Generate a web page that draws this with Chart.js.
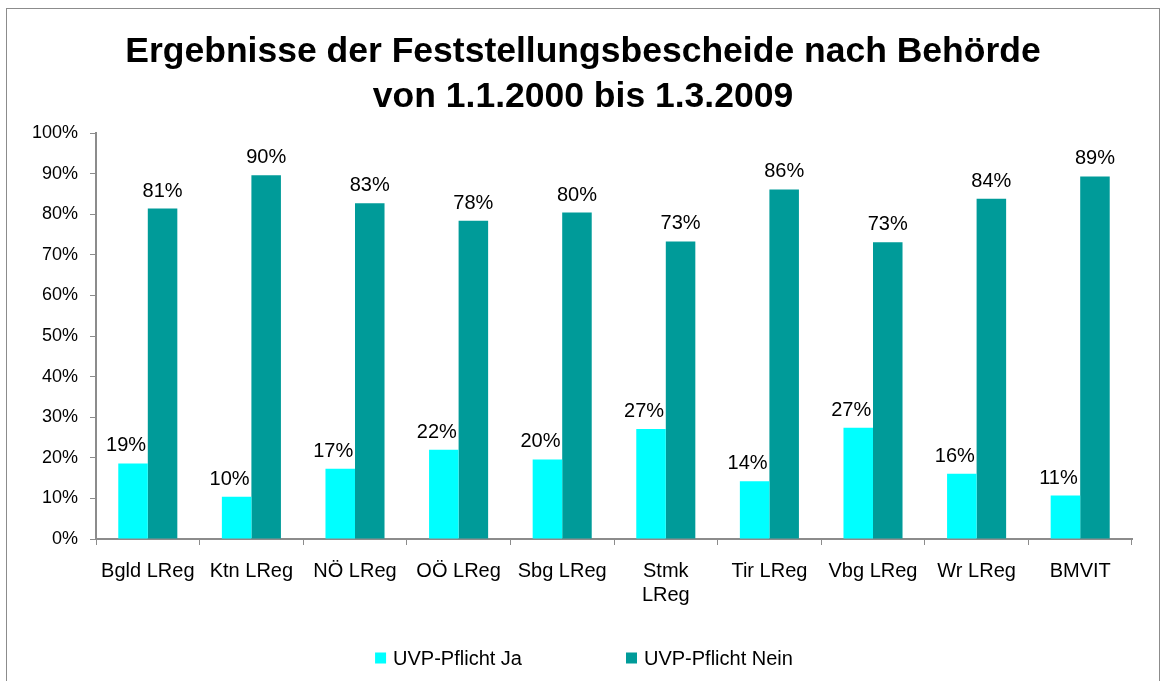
<!DOCTYPE html>
<html>
<head>
<meta charset="utf-8">
<script src="https://cdn.jsdelivr.net/npm/chart.js"></script>
<style>
  html, body { margin: 0; padding: 0; background: #fff; overflow: hidden; }
  #frame { position: absolute; left: 6px; top: 8px; width: 1152px; height: 700px; border: 1px solid #8c8c8c; }
  #chart { display: block; }
</style>
</head>
<body>
<div id="frame"><canvas id="chart" width="1152" height="672"></canvas></div>
<script>
// Kategorien (Behörden)
const categories = ['Bgld LReg', 'Ktn LReg', 'NÖ LReg', 'OÖ LReg', 'Sbg LReg',
  ['Stmk', 'LReg'], 'Tir LReg', 'Vbg LReg', 'Wr LReg', 'BMVIT'];
// Anteile in %
const uvpJa   = [18.6, 10.4, 17.3, 22.0, 19.6, 27.1, 14.2, 27.4, 16.1, 10.7];
const uvpNein = [81.4, 89.6, 82.7, 78.4, 80.4, 73.3, 86.1, 73.1, 83.8, 89.3];
const seriesNames = ['UVP-Pflicht Ja', 'UVP-Pflicht Nein'];
const titleLines = ['Ergebnisse der Feststellungsbescheide nach Behörde', 'von 1.1.2000 bis 1.3.2009'];

const FONT = "'Liberation Sans', Arial, sans-serif";
const axisGrey = '#8c8c8c';

// Titel über die ganze Breite zentriert (nicht nur über den Plotbereich)
const centeredTitle = {
  id: 'centeredTitle',
  afterDraw(chart) {
    const ctx = chart.ctx;
    ctx.save();
    ctx.font = 'bold 35.5px ' + FONT;
    ctx.fillStyle = '#000';
    ctx.textAlign = 'center';
    ctx.textBaseline = 'middle';
    titleLines.forEach((line, i) => ctx.fillText(line, chart.width / 2, 43 + i * 45));
    ctx.restore();
  }
};

// Werte-Beschriftung über den Balken
const valueLabels = {
  id: 'valueLabels',
  afterDatasetsDraw(chart) {
    const ctx = chart.ctx;
    ctx.save();
    ctx.font = '20px ' + FONT;
    ctx.fillStyle = '#000';
    ctx.textAlign = 'center';
    ctx.textBaseline = 'alphabetic';
    chart.data.datasets.forEach((ds, i) => {
      const meta = chart.getDatasetMeta(i);
      const dx = i === 0 ? -7 : 0;
      meta.data.forEach((bar, j) => {
        ctx.fillText(Math.round(ds.data[j]) + '%', bar.x + dx, bar.y - 12);
      });
    });
    ctx.restore();
  }
};

// eigene Legende unten (weiter Abstand zwischen den Einträgen)
const bottomLegend = {
  id: 'bottomLegend',
  afterDraw(chart) {
    const ctx = chart.ctx;
    ctx.save();
    ctx.font = '20px ' + FONT;
    ctx.textBaseline = 'middle';
    ctx.textAlign = 'left';
    const box = 11, gap = 7, itemGap = 104;
    const items = chart.data.datasets.map(ds => ({ text: ds.label, color: ds.backgroundColor, w: box + gap + ctx.measureText(ds.label).width }));
    const total = items.reduce((s, it) => s + it.w, 0) + itemGap * (items.length - 1);
    let x = chart.width / 2 + 1 - total / 2;
    const y = 650;
    items.forEach(it => {
      ctx.fillStyle = it.color;
      ctx.fillRect(x, y - box / 2 - 1, box, box);
      ctx.fillStyle = '#000';
      ctx.fillText(it.text, x + box + gap, y);
      x += it.w + itemGap;
    });
    ctx.restore();
  }
};

new Chart(document.getElementById('chart'), {
  type: 'bar',
  data: {
    labels: categories,
    datasets: [
      { label: seriesNames[0], data: uvpJa, backgroundColor: '#00ffff' },
      { label: seriesNames[1], data: uvpNein, backgroundColor: '#009b99' }
    ]
  },
  options: {
    responsive: false,
    animation: false,
    layout: { padding: { left: 0, right: 27, top: 124, bottom: 0 } },
    datasets: { bar: { categoryPercentage: 0.57, barPercentage: 1.0 } },
    plugins: {
      legend: { display: false },
      tooltip: { enabled: false },
      title: { display: false }
    },
    scales: {
      x: {
        afterFit: s => { s.height = 142; },
        grid: { drawOnChartArea: false, drawTicks: true, tickLength: 6, color: axisGrey, lineWidth: 1 },
        border: { display: true, color: axisGrey, width: 2 },
        ticks: { color: '#000', font: { family: FONT, size: 20 }, padding: 14, maxRotation: 0, autoSkip: false }
      },
      y: {
        min: 0,
        max: 100,
        afterFit: s => { s.width = 89; },
        grid: { drawOnChartArea: false, drawTicks: true, tickLength: 6, color: axisGrey, lineWidth: 1 },
        border: { display: true, color: axisGrey, width: 2 },
        ticks: { stepSize: 10, color: '#000', font: { family: FONT, size: 18 }, padding: 12, callback: v => v + '%' }
      }
    }
  },
  plugins: [valueLabels, bottomLegend, centeredTitle]
});
</script>
</body>
</html>
